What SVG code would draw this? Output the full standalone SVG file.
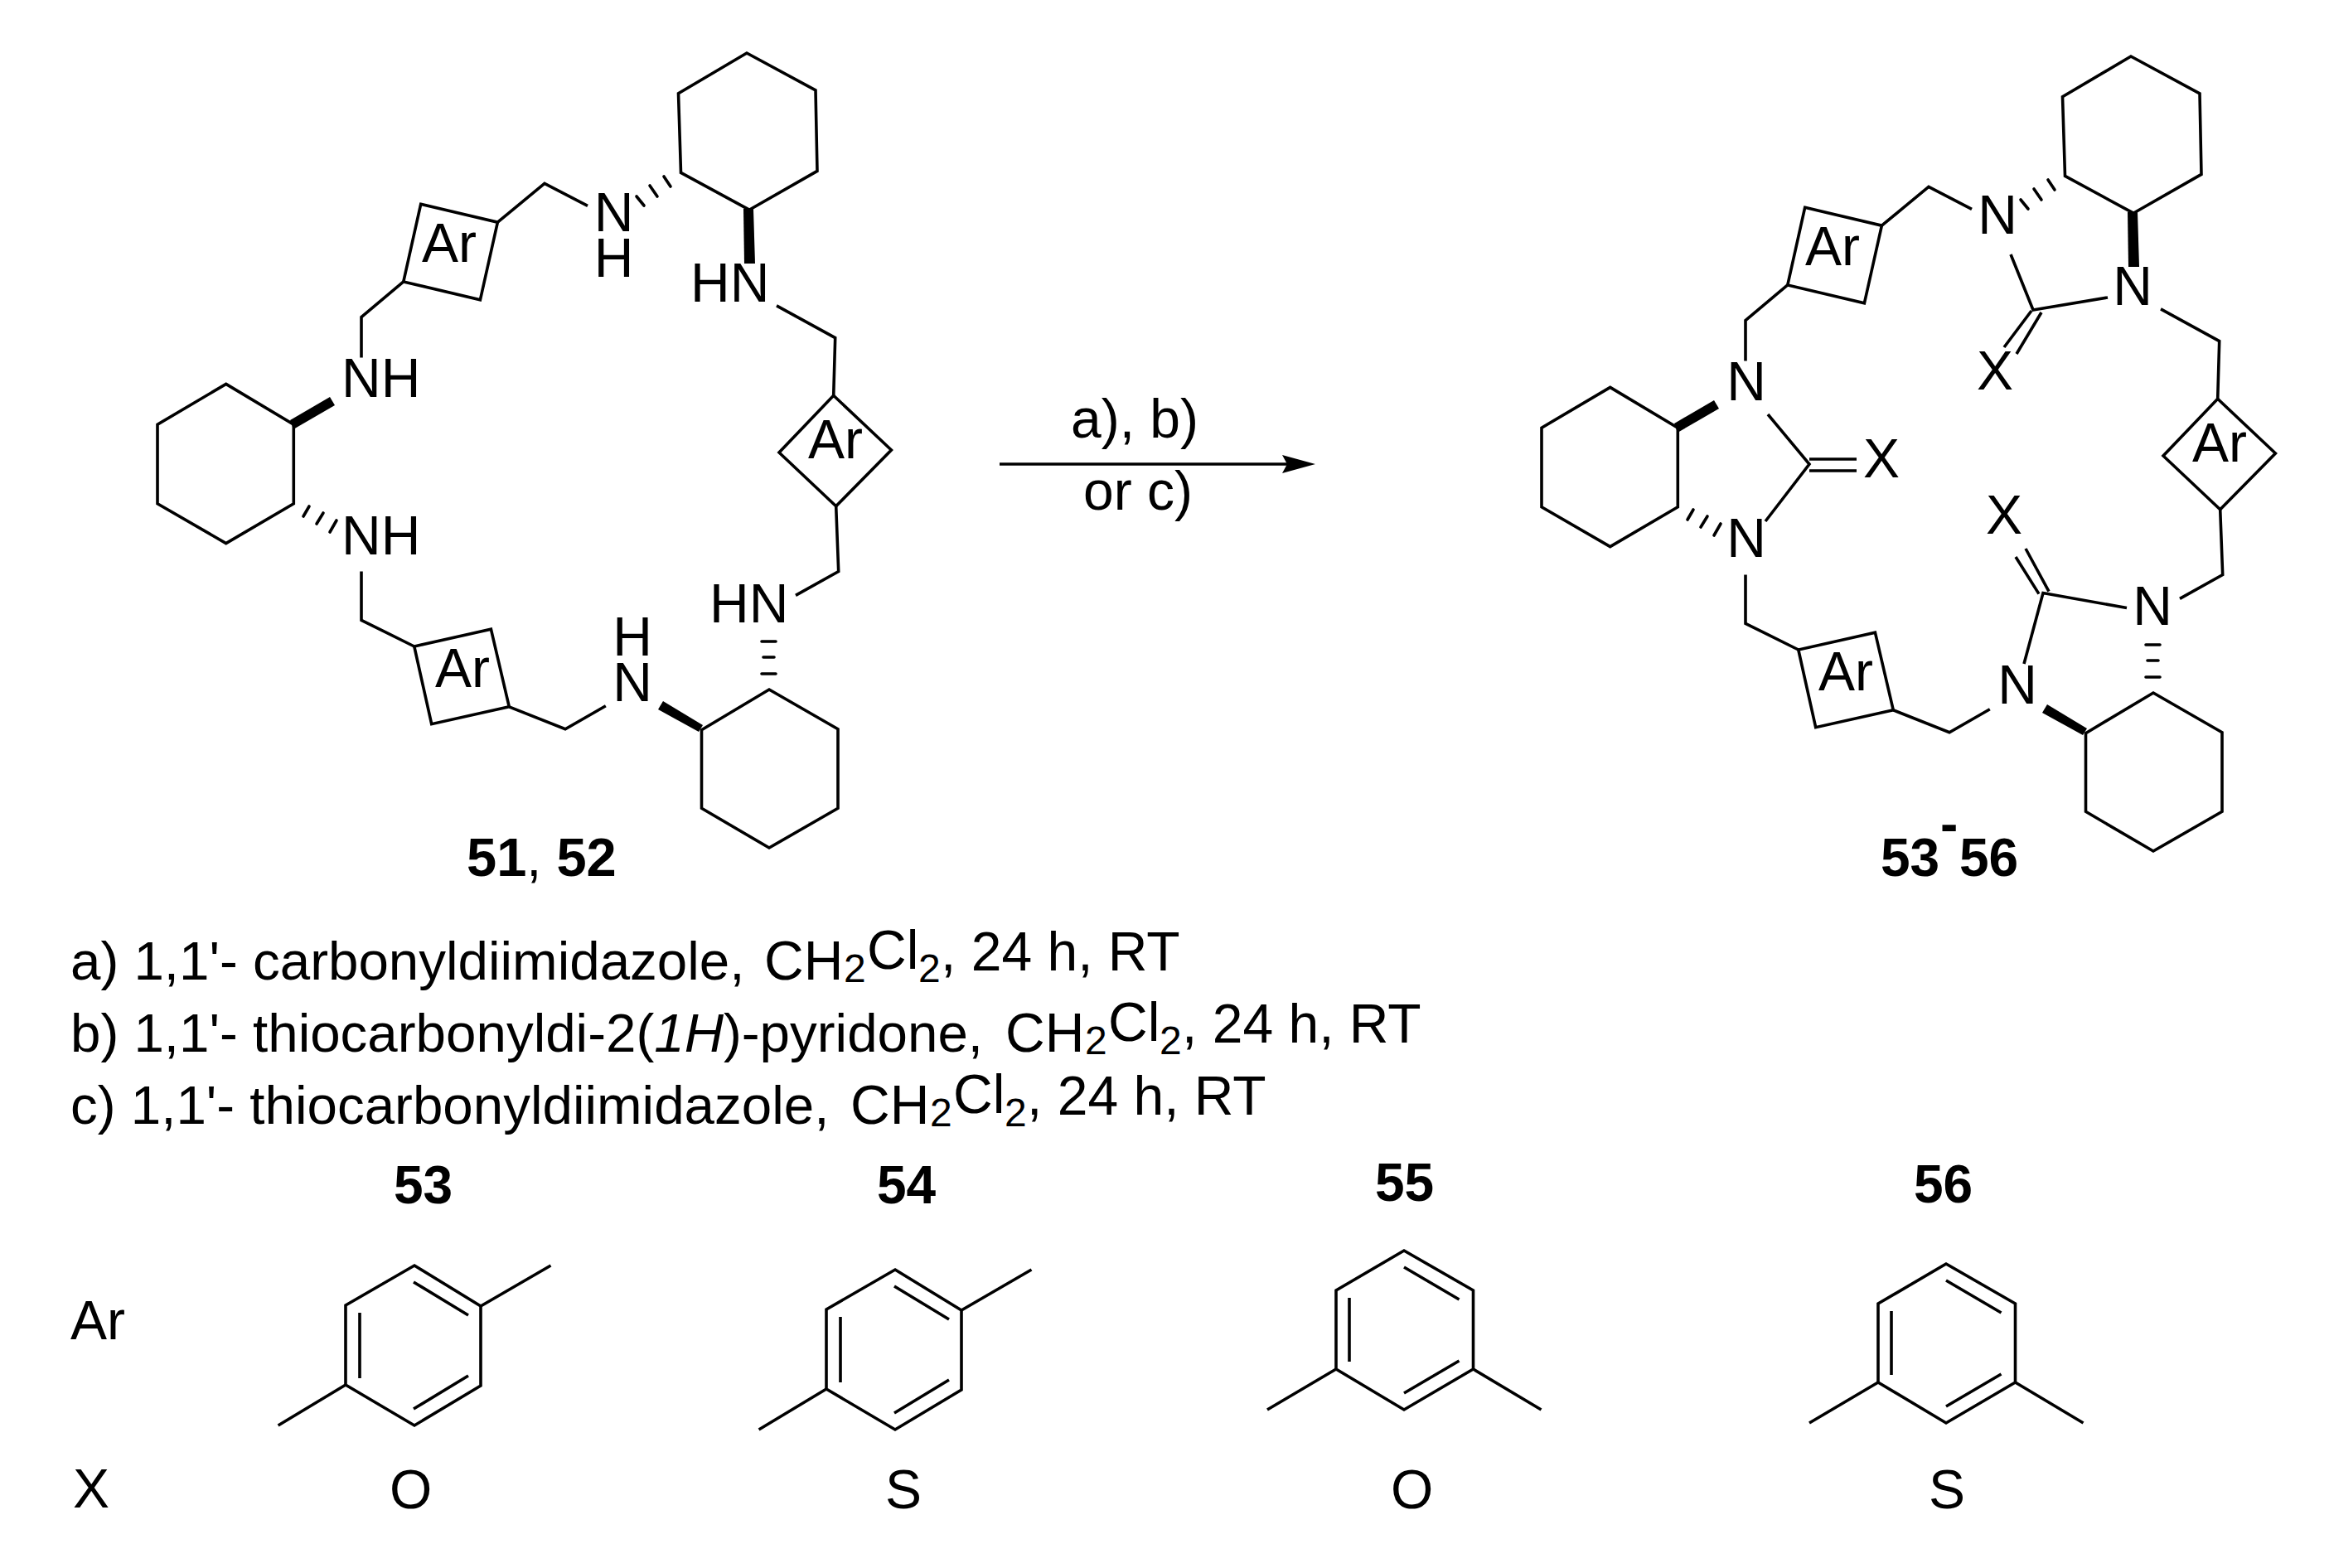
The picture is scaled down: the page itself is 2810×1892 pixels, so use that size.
<svg xmlns="http://www.w3.org/2000/svg" width="2810" height="1892" viewBox="0 0 2810 1892">
<style>
.b{fill:none;stroke:#000;stroke-width:3.6;stroke-linejoin:miter;stroke-linecap:butt}
.h{fill:none;stroke:#000;stroke-width:3.6;stroke-linecap:round}
.w{fill:#000;stroke:none}
text{font-family:"Liberation Sans",Arial,sans-serif;font-size:66px;fill:#000}
.c{text-anchor:middle}
.s{font-size:48px}
.n{font-weight:bold;font-size:64px}
.m{font-weight:bold;font-size:65px}
.i{font-style:italic}
.r{font-size:65.5px}
</style>
<defs>
<g id="skeleton">
<path class="b" d="M901 64L984 108.800L986 206.400L904 253.200L821.500 208.400L818.500 112.800Z"/>
<path class="b" d="M928 832L1011 879.700V975.300L928 1023L846.500 975.300V880.700Z"/>
<path class="b" d="M272.700 463.400L354.300 512.200V607.800L272.700 655.600L190 607.800V512.200Z"/>
<path class="b" d="M507.700 246.300L600.400 268.200L579.400 361.800L486.800 339.900Z"/>
<path class="b" d="M1005.700 477.300L1075.400 543L1008.700 610.800L940 546Z"/>
<path class="b" d="M614.300 852.800L520.700 873.700L499.800 780L592.400 759.200Z"/>
<path class="b" d="M600.400 268.200L657 221.400L709 248.300"/>
<path class="b" d="M937 368.800L1007.700 407.600L1005.700 477.300"/>
<path class="b" d="M1008.700 610.800L1011.700 689.500L960 718.400"/>
<path class="b" d="M730.800 851.800L682 879.700L614.300 852.800"/>
<path class="b" d="M499.800 780L436 748.300V689.500"/>
<path class="b" d="M436 431.500V382.700L486.800 339.900"/>
<polygon class="w" points="897,252 909,252 911,318 898,318"/>
<polygon class="w" points="800,846 794,856 843,883 848,875"/>
<polygon class="w" points="398,479 404,489 354,518 350,507"/>
<path class="h" d="M768 237L777 248M784 224L793 237M801 213L809 225"/>
<path class="h" d="M919 774H936M921 793H934M919 813H936"/>
<path class="h" d="M373 611L366 623M390 619L382 632M406 628L398 642"/>
</g>
<g id="ring-para">
<path class="b" d="M500 1527L580 1576V1672L500 1720L417 1671V1575Z"/>
<path class="b" d="M580 1576L664.500 1527M417 1671L335.600 1720"/>
<path class="b" d="M434 1584V1663M499 1547L565 1587M565 1660L499 1700"/>
</g>
<g id="ring-meta">
<path class="b" d="M1694 1509L1777.500 1557V1652L1694 1701L1612 1652V1557Z"/>
<path class="b" d="M1612 1652L1529 1701M1777.500 1652L1859.500 1701"/>
<path class="b" d="M1628 1566V1643M1694 1529L1760.500 1568M1760.500 1642L1694 1681"/>
</g>
</defs>
<rect width="2810" height="1892" fill="#fff"/>

<g id="compound-51-52">
<use href="#skeleton"/>
<text x="509" y="316">Ar</text>
<text x="975" y="553">Ar</text>
<text x="525" y="829">Ar</text>
<text class="c" x="740.500" y="279">N<tspan x="740.500" y="334">H</tspan></text>
<text x="833" y="364">HN</text>
<text x="856" y="751">HN</text>
<text class="c" x="763" y="791">H<tspan x="763" y="846">N</tspan></text>
<text x="412" y="479">NH</text>
<text x="412" y="669">NH</text>
<text class="m" x="563" y="1057"><tspan class="m">51</tspan><tspan style="font-weight:normal">, </tspan><tspan class="m">52</tspan></text>
</g>

<g id="compound-53-56">
<use href="#skeleton" transform="translate(1670 4)"/>
<text x="2178" y="320">Ar</text>
<text x="2645" y="557">Ar</text>
<text x="2194" y="833">Ar</text>
<text class="c" x="2410" y="282">N</text>
<text class="c" x="2573" y="368">N</text>
<text class="c" x="2107" y="483">N</text>
<text class="c" x="2107" y="672">N</text>
<text class="c" x="2597" y="754">N</text>
<text class="c" x="2434" y="849">N</text>
<text class="c" x="2407" y="470">X</text>
<text class="c" x="2270" y="576">X</text>
<text class="c" x="2418" y="644">X</text>
<path class="b" d="M2426 307L2453 374L2543 359"/>
<path class="b" d="M2451 375L2418 419M2463 377L2433 427"/>
<path class="b" d="M2133 500L2183 560L2130 629"/>
<path class="b" d="M2183 554H2240M2183 568H2240"/>
<path class="b" d="M2566 733.500L2465 715.600L2442 801"/>
<path class="b" d="M2472 713.600L2444 662M2460 716.600L2432 672"/>
<text class="n" x="2269" y="1057">53<tspan x="2341" y="1016">-</tspan><tspan x="2364" y="1057">56</tspan></text>
</g>

<g id="reaction-arrow">
<line class="b" x1="1206" y1="560" x2="1560" y2="560"/>
<polygon class="w" points="1587,560 1547,549 1553,560 1547,571"/>
<text x="1292" y="528">a), b)</text>
<text x="1307" y="615">or c)</text>
</g>

<g id="reagents">
<text x="85" y="1182"><tspan class="r">a) 1,1'- carbonyldiimidazole,</tspan><tspan x="922" y="1182">CH</tspan><tspan class="s" x="1018" y="1185">2</tspan><tspan x="1046" y="1169">Cl</tspan><tspan class="s" x="1108" y="1185">2</tspan><tspan x="1135" y="1171">, 24 h, RT</tspan></text>
<text x="85" y="1269"><tspan class="r">b) 1,1'- thiocarbonyldi-2(</tspan><tspan class="r i">1H</tspan><tspan class="r">)-pyridone,</tspan><tspan x="1213" y="1269">CH</tspan><tspan class="s" x="1309" y="1272">2</tspan><tspan x="1337" y="1256">Cl</tspan><tspan class="s" x="1399" y="1272">2</tspan><tspan x="1426" y="1258">, 24 h, RT</tspan></text>
<text x="85" y="1356"><tspan class="r">c) 1,1'- thiocarbonyldiimidazole,</tspan><tspan x="1026" y="1356">CH</tspan><tspan class="s" x="1122" y="1359">2</tspan><tspan x="1150" y="1343">Cl</tspan><tspan class="s" x="1212" y="1359">2</tspan><tspan x="1239" y="1345">, 24 h, RT</tspan></text>
</g>

<g id="table">
<text x="85" y="1616">Ar</text>
<text x="88" y="1819">X</text>
<g id="entry-53">
<text class="n" x="475" y="1452">53</text>
<use href="#ring-para"/>
<text x="470" y="1820">O</text>
</g>
<g id="entry-54">
<text class="n" x="1058" y="1452">54</text>
<use href="#ring-para" transform="translate(580 5)"/>
<text x="1068" y="1820">S</text>
</g>
<g id="entry-55">
<text class="n" x="1659" y="1449">55</text>
<use href="#ring-meta"/>
<text x="1678" y="1820">O</text>
</g>
<g id="entry-56">
<text class="n" x="2309" y="1451">56</text>
<use href="#ring-meta" transform="translate(654 16)"/>
<text x="2327" y="1820">S</text>
</g>
</g>
</svg>
